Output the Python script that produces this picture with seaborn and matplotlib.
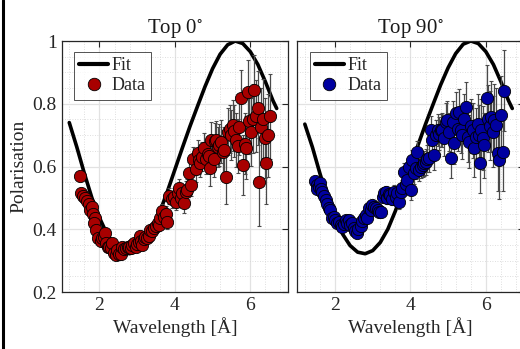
import numpy as np
import pandas as pd
import matplotlib
matplotlib.use("Agg")
import matplotlib.pyplot as plt
import seaborn as sns
from matplotlib.ticker import MultipleLocator
from matplotlib.lines import Line2D

# ---- data ----
# Top 0 deg
lam0 = [1.49, 1.52, 1.57, 1.62, 1.67, 1.72, 1.76, 1.80, 1.83, 1.87,
        1.85, 1.92, 1.97, 2.03, 2.08, 2.12, 2.15, 2.18, 2.22, 2.25,
        2.30, 2.34, 2.39, 2.44, 2.47, 2.52, 2.56, 2.61, 2.66, 2.70,
        2.75, 2.79, 2.84, 2.87, 2.91, 2.96, 3.00, 3.05, 3.07, 3.11,
        3.14, 3.18, 3.22, 3.27, 3.31, 3.35, 3.40, 3.45, 3.49, 3.54,
        3.58, 3.60, 3.66, 3.71, 3.76, 3.80, 3.84, 3.92, 3.98, 4.02,
        4.07, 4.11, 4.15, 4.20, 4.24, 4.29, 4.33, 4.38, 4.42, 4.49,
        4.55, 4.60, 4.64, 4.67, 4.73, 4.78, 4.83, 4.88, 4.91, 4.94,
        4.97, 5.03, 5.06, 5.09, 5.14, 5.18, 5.22, 5.27, 5.31, 5.35,
        5.40, 5.45, 5.49, 5.53, 5.58, 5.62, 5.67, 5.71, 5.76, 5.80,
        5.85, 5.89, 5.93, 5.97, 6.02, 6.07, 6.11, 6.16, 6.20, 6.24,
        6.29, 6.33, 6.38, 6.42, 6.48, 6.51]
pol0 = [0.571, 0.514, 0.505, 0.500, 0.490, 0.479, 0.461, 0.470, 0.448, 0.435,
        0.420, 0.397, 0.372, 0.362, 0.371, 0.374, 0.389, 0.355, 0.345, 0.344,
        0.340, 0.355, 0.323, 0.318, 0.334, 0.320, 0.321, 0.344, 0.336, 0.339,
        0.345, 0.344, 0.340, 0.350, 0.355, 0.344, 0.352, 0.360, 0.378, 0.362,
        0.350, 0.368, 0.375, 0.372, 0.380, 0.397, 0.395, 0.405, 0.410, 0.420,
        0.415, 0.435, 0.459, 0.440, 0.450, 0.424, 0.506, 0.495, 0.504, 0.488,
        0.515, 0.530, 0.500, 0.514, 0.483, 0.520, 0.525, 0.578, 0.541, 0.623,
        0.591, 0.642, 0.620, 0.610, 0.631, 0.658, 0.625, 0.640, 0.633, 0.594,
        0.686, 0.625, 0.680, 0.684, 0.662, 0.668, 0.679, 0.645, 0.653, 0.567,
        0.711, 0.720, 0.700, 0.732, 0.712, 0.684, 0.665, 0.727, 0.817, 0.605,
        0.672, 0.660, 0.838, 0.745, 0.711, 0.753, 0.844, 0.760, 0.785, 0.551,
        0.727, 0.753, 0.690, 0.610, 0.700, 0.760]
err0 = [0.012, 0.010, 0.010, 0.010, 0.010, 0.010, 0.010, 0.010, 0.010, 0.010,
        0.010, 0.010, 0.010, 0.010, 0.010, 0.010, 0.010, 0.010, 0.010, 0.010,
        0.010, 0.010, 0.012, 0.012, 0.012, 0.012, 0.012, 0.012, 0.012, 0.012,
        0.012, 0.013, 0.013, 0.014, 0.014, 0.014, 0.015, 0.015, 0.015, 0.015,
        0.016, 0.016, 0.017, 0.017, 0.018, 0.018, 0.019, 0.019, 0.020, 0.020,
        0.021, 0.021, 0.022, 0.022, 0.023, 0.023, 0.025, 0.026, 0.027, 0.028,
        0.029, 0.030, 0.030, 0.031, 0.032, 0.033, 0.034, 0.035, 0.036, 0.038,
        0.040, 0.042, 0.043, 0.044, 0.046, 0.048, 0.050, 0.052, 0.053, 0.055,
        0.056, 0.058, 0.060, 0.062, 0.064, 0.066, 0.068, 0.070, 0.072, 0.085,
        0.075, 0.077, 0.079, 0.081, 0.083, 0.085, 0.087, 0.089, 0.092, 0.095,
        0.097, 0.100, 0.102, 0.105, 0.108, 0.110, 0.112, 0.115, 0.118, 0.140,
        0.122, 0.125, 0.128, 0.130, 0.132, 0.135]

# Top 90 deg
lam90 = [1.48, 1.51, 1.53, 1.57, 1.60, 1.63, 1.66, 1.70, 1.75, 1.79,
         1.84, 1.88, 1.92, 1.97, 2.01, 2.05, 2.10, 2.15, 2.19, 2.24,
         2.28, 2.33, 2.37, 2.41, 2.46, 2.50, 2.54, 2.57, 2.62, 2.68,
         2.72, 2.77, 2.81, 2.86, 2.90, 2.95, 2.99, 3.04, 3.08, 3.13,
         3.17, 3.21, 3.26, 3.29, 3.35, 3.39, 3.43, 3.47, 3.52, 3.56,
         3.61, 3.65, 3.69, 3.74, 3.78, 3.83, 3.87, 3.90, 3.96, 4.01,
         4.05, 4.10, 4.14, 4.18, 4.23, 4.27, 4.32, 4.36, 4.41, 4.45,
         4.49, 4.54, 4.58, 4.63, 4.67, 4.72, 4.77, 4.81, 4.85, 4.90,
         4.94, 4.98, 5.03, 5.07, 5.12, 5.16, 5.21, 5.25, 5.29, 5.33,
         5.38, 5.43, 5.47, 5.52, 5.56, 5.61, 5.65, 5.69, 5.74, 5.78,
         5.83, 5.85, 5.87, 5.92, 5.96, 6.03, 6.05, 6.10, 6.14, 6.18,
         6.21, 6.27, 6.32, 6.36, 6.41, 6.45, 6.48]
pol90 = [0.555, 0.540, 0.527, 0.535, 0.546, 0.528, 0.520, 0.505, 0.493, 0.480,
         0.467, 0.461, 0.435, 0.440, 0.430, 0.420, 0.424, 0.412, 0.408, 0.418,
         0.430, 0.420, 0.430, 0.414, 0.420, 0.403, 0.395, 0.387, 0.400, 0.410,
         0.425, 0.435, 0.445, 0.435, 0.467, 0.460, 0.477, 0.470, 0.467, 0.460,
         0.456, 0.456, 0.504, 0.514, 0.520, 0.500, 0.512, 0.509, 0.498, 0.520,
         0.504, 0.515, 0.488, 0.520, 0.530, 0.583, 0.545, 0.557, 0.600, 0.525,
         0.621, 0.578, 0.595, 0.647, 0.589, 0.600, 0.605, 0.610, 0.615, 0.625,
         0.626, 0.716, 0.684, 0.637, 0.700, 0.716, 0.705, 0.715, 0.716, 0.690,
         0.743, 0.748, 0.710, 0.626, 0.743, 0.674, 0.769, 0.720, 0.775, 0.716,
         0.700, 0.753, 0.790, 0.695, 0.679, 0.730, 0.716, 0.658, 0.695, 0.737,
         0.700, 0.612, 0.716, 0.690, 0.668, 0.817, 0.753, 0.730, 0.759, 0.711,
         0.748, 0.732, 0.642, 0.620, 0.764, 0.647, 0.842]
err90 = [0.010, 0.010, 0.010, 0.010, 0.010, 0.010, 0.010, 0.010, 0.010, 0.010,
         0.010, 0.010, 0.010, 0.010, 0.010, 0.010, 0.010, 0.010, 0.010, 0.010,
         0.010, 0.010, 0.011, 0.011, 0.011, 0.012, 0.012, 0.012, 0.012, 0.013,
         0.013, 0.013, 0.014, 0.014, 0.014, 0.015, 0.015, 0.016, 0.016, 0.017,
         0.017, 0.018, 0.018, 0.019, 0.019, 0.020, 0.020, 0.021, 0.021, 0.022,
         0.022, 0.023, 0.024, 0.025, 0.026, 0.027, 0.028, 0.029, 0.030, 0.031,
         0.032, 0.033, 0.034, 0.035, 0.036, 0.037, 0.038, 0.040, 0.041, 0.042,
         0.043, 0.045, 0.046, 0.047, 0.049, 0.050, 0.052, 0.053, 0.055, 0.056,
         0.058, 0.060, 0.061, 0.063, 0.065, 0.066, 0.068, 0.070, 0.072, 0.074,
         0.076, 0.078, 0.080, 0.082, 0.084, 0.086, 0.088, 0.090, 0.092, 0.094,
         0.096, 0.098, 0.100, 0.102, 0.104, 0.106, 0.108, 0.110, 0.112, 0.114,
         0.116, 0.118, 0.120, 0.122, 0.124, 0.126, 0.128]

# fit curves
fit_lam = [1.20, 1.40, 1.60, 1.80, 2.00, 2.20, 2.40, 2.60, 2.80, 3.00,
           3.20, 3.40, 3.60, 3.80, 4.00, 4.20, 4.40, 4.60, 4.80, 5.00,
           5.20, 5.40, 5.60, 5.80, 6.00, 6.20, 6.40, 6.60, 6.70]
fit0 = [0.740, 0.662, 0.578, 0.500, 0.437, 0.385, 0.348, 0.327, 0.322, 0.332,
        0.358, 0.400, 0.455, 0.520, 0.590, 0.660, 0.728, 0.792, 0.855, 0.912,
        0.958, 0.988, 1.000, 0.992, 0.966, 0.925, 0.870, 0.810, 0.785]
fit90 = [0.735, 0.662, 0.578, 0.500, 0.437, 0.385, 0.348, 0.327, 0.322, 0.332,
         0.358, 0.400, 0.458, 0.525, 0.597, 0.668, 0.735, 0.798, 0.860, 0.915,
         0.960, 0.990, 1.000, 0.992, 0.966, 0.925, 0.870, 0.810, 0.785]

panels = [
    ("Top 0$^{\\circ}$", lam0, pol0, err0, fit0, "#a80000"),
    ("Top 90$^{\\circ}$", lam90, pol90, err90, fit90, "#0000a0"),
]

sns.set_theme(style="white")
plt.rcParams["font.family"] = ["Liberation Serif", "DejaVu Serif"]
plt.rcParams["mathtext.fontset"] = "stix"
plt.rcParams["axes.edgecolor"] = "#262626"

fig = plt.figure(figsize=(5.2, 3.49), dpi=100)
axes = [fig.add_axes([0.1187, 0.1633, 0.4352, 0.7192]),
        fig.add_axes([0.5717, 0.1633, 0.4352, 0.7192])]

for i, (ax, (title, lam, pol, err, fit, color)) in enumerate(zip(axes, panels)):
    df = pd.DataFrame({"lam": lam, "pol": pol, "err": err})
    fitdf = pd.DataFrame({"lam": fit_lam, "pol": fit})

    ax.set_axisbelow(True)
    ax.grid(which="major", color="#e2e2e2", linewidth=0.9, linestyle="-")
    ax.grid(which="minor", color="#d4d4d4", linewidth=0.6, linestyle=(0, (1, 2)))

    sns.lineplot(data=fitdf, x="lam", y="pol", ax=ax, color="black", linewidth=2.6,
                 sort=False, estimator=None, label="Fit", zorder=2)
    ax.errorbar(df["lam"], df["pol"], yerr=df["err"], fmt="none", ecolor="#4a4a4a",
                elinewidth=0.9, capsize=1.6, capthick=0.8, zorder=3)
    sns.scatterplot(data=df, x="lam", y="pol", ax=ax, color=color, edgecolor="black",
                    linewidth=0.6, s=78, label="Data", zorder=4)

    ax.set_xlim(1, 7)
    ax.set_ylim(0.2, 1.0)
    ax.xaxis.set_major_locator(MultipleLocator(2))
    ax.xaxis.set_minor_locator(MultipleLocator(0.4))
    ax.yaxis.set_major_locator(MultipleLocator(0.2))
    ax.yaxis.set_minor_locator(MultipleLocator(0.05))
    ax.tick_params(which="both", direction="in", top=True, right=True,
                   labelsize=14, colors="#262626", labelcolor="#262626")
    ax.tick_params(which="major", length=4, width=0.8)
    ax.tick_params(which="minor", length=0)
    for sp in ax.spines.values():
        sp.set_linewidth(0.9)
        sp.set_color("#262626")

    ax.set_title(title, fontsize=15, pad=6, color="#1a1a1a")
    ax.set_xlabel("Wavelength [Å]", fontsize=14, color="#262626", labelpad=2)
    if i == 0:
        ax.set_ylabel("Polarisation", fontsize=14, color="#262626", labelpad=4)
        ax.set_yticklabels([f"{v:g}" for v in ax.get_yticks()])
    else:
        ax.set_ylabel("")
        ax.set_yticklabels([])

    handles = [Line2D([], [], color="black", linewidth=3),
               Line2D([], [], marker="o", linestyle="none", markerfacecolor=color,
                      markeredgecolor="black", markeredgewidth=0.6, markersize=9)]
    leg = ax.legend(handles, ["Fit", "Data"], loc="upper left",
                    bbox_to_anchor=(0.054, 0.956), borderaxespad=0, fontsize=13,
                    frameon=True, fancybox=False, handlelength=1.6, handletextpad=0.2,
                    borderpad=0.3, labelspacing=0.15)
    leg.get_frame().set_edgecolor("#262626")
    leg.get_frame().set_linewidth(0.7)

fig.add_artist(Line2D([0.006, 0.006], [0, 1], color="black", linewidth=2.2,
                      transform=fig.transFigure))

fig.savefig("out.png", dpi=100)
